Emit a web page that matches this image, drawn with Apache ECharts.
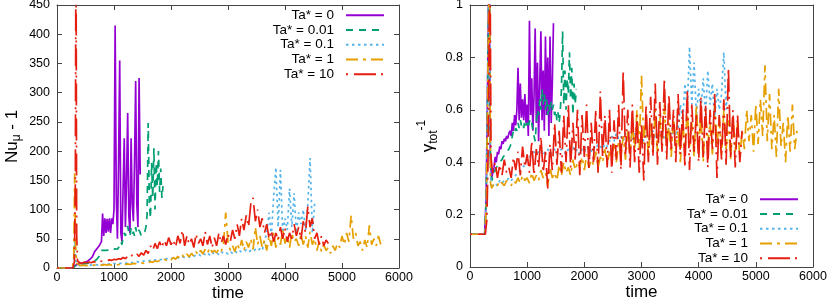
<!DOCTYPE html>
<html><head><meta charset="utf-8">
<script src="https://cdn.jsdelivr.net/npm/echarts@6/dist/echarts.min.js"></script>
<style>html,body{margin:0;padding:0;background:#fff}#c{width:830px;height:300px}</style>
</head><body><div id="c"></div>
<script>
const seriesNames = ['Ta* = 0', 'Ta* = 0.01', 'Ta* = 0.1', 'Ta* = 1', 'Ta* = 10'];

// ---------- Left panel: Nu_mu - 1 vs time ----------
const nuHead0 = [[0,0],[270,0],[300,3],[330,5],[360,6],[380,7]];
const nuStart0 = 400, nuStep0 = 20;
const nuBody0 = [7,8,8,9,10,10,11,12,14,15, 17,19,22,28,27,33,36,38,36,45,
  93,55,85,60,84,62,85,60,85,75, 100,415,120,50,180,355,60,45,140,222,
  70,150,265,90,60,222,110,80,180,320, 110,70,325,160];

const nuHead1 = [[0,0],[270,0],[300,3],[330,4],[360,5],[380,6]];
const nuStart1 = 400, nuStep1 = 20;
const nuBody1 = [6,6,7,7,7,8,8,8,9,9, 10,10,11,12,13,15,17,20,25,30,
  33,30,32,30,33,31,30,33,35,31, 30,33,36,32,34,38,45,40,52,60,
  55,65,72,60,55,68,58,62,55,70, 58,55,65,60,55,60,58,62,70,90,
  248,110,85,180,120,205,100,180,140,200, 130,170,120,140];

const nuHead2 = [[0,0],[270,0],[295,10],[310,50],[325,15],[350,6],[375,5]];
const nuStart2 = 400, nuStep2 = 40;
const nuBody2 = [4,4,5,4,5,5,5,6,5,6, 6,7,6,7,7,8,7,8,8,9, 8,9,10,9,10,11,10,11,12,11,
  12,13,12,14,13,14,15,14,16,15, 16,17,16,18,17,19,18,20,19,21, 20,22,24,21,25,23,26,22,27,24,
  26,23,28,25,27,24,28,25,29,26, 30,27,28,31,27,30,28,32,29,33, 30,45,60,95,55,120,172,70,168,60,
  85,65,136,70,128,60,95,75,100,65, 110,188,60,110];

const nuHead3 = [[0,0],[270,0],[295,20],[310,162],[325,40],[345,8],[370,5]];
const nuStart3 = 400, nuStep3 = 40;
const nuBody3 = [5,4,5,4,5,4,5,5,4,5, 5,6,5,6,5,6,5,6,6,7, 6,7,6,7,8,7,8,9,8,10,
  9,11,10,12,11,13,12,15,13,16, 14,18,15,20,16,22,17,24,19,25, 20,28,22,30,24,32,25,35,27,30,
  26,33,28,40,95,45,30,38,28,42, 32,48,30,45,35,50,32,70,40,55, 35,48,30,55,38,60,35,52,40,65,
  42,55,35,60,45,50,38,58,40,55, 35,62,40,50,30,45,28,40,30,35, 25,38,30,42,35,55,40,60,45,90,
  50,60,38,45,30,48,35,73,40,50, 38,55,40,48];

const nuHead4 = [[0,0],[280,0],[305,10],[322,150],[333,600],[345,60],[360,12],[380,9]];
const nuStart4 = 400, nuStep4 = 40;
const nuBody4 = [9,8,10,9,10,9,11,10,11,12, 11,13,12,14,13,15,14,16,15,18, 16,20,18,22,19,24,20,26,22,30,
  25,38,30,42,33,45,35,48,38,52, 40,48,35,55,42,65,38,55,40,50, 35,58,42,50,38,62,40,55,35,52,
  38,60,42,55,40,58,45,65,50,75, 55,85,65,90,70,110,120,80,100,70, 85,60,75,50,65,45,60,48,70,50,
  68,45,60,50,75,55,70,48,80,60, 105,70,85,50,60,40,55,38,48,42];

// ---------- Right panel: gamma_tot^-1 vs time ----------
const gaHead0 = [[0,0.125],[255,0.125],[280,0.25],[300,0.55],[320,0.95],[335,1.2],[355,0.42],[380,0.34]];
const gaStart0 = 400, gaStep0 = 20;
const gaBody0 = [0.36,0.38,0.42,0.40,0.44,0.43,0.46,0.45,0.48,0.47, 0.49,0.48,0.50,0.49,0.51,0.52,0.50,0.55,0.52,0.58,
  0.54,0.60,0.76,0.56,0.70,0.57,0.64,0.56,0.66,0.55, 0.62,0.50,0.94,0.58,0.72,0.52,0.65,0.91,0.55,0.78,
  0.48,0.70,0.90,0.56,0.75,0.52,0.88,0.58,0.80,0.50, 0.88,0.55,0.70,0.93];

const gaHead1 = [[0,0.125],[258,0.125],[282,0.25],[302,0.55],[322,0.95],[337,1.2],[357,0.40],[380,0.33]];
const gaStart1 = 400, gaStep1 = 20;
const gaBody1 = [0.34,0.36,0.37,0.38,0.38,0.39,0.40,0.40,0.41,0.42, 0.42,0.43,0.44,0.44,0.45,0.46,0.47,0.50,0.52,0.51,
  0.53,0.52,0.55,0.53,0.56,0.54,0.55,0.53,0.56,0.54, 0.55,0.53,0.56,0.54,0.55,0.52,0.50,0.48,0.55,0.60,
  0.58,0.64,0.60,0.68,0.62,0.66,0.60,0.64,0.58,0.62, 0.59,0.63,0.60,0.62,0.58,0.60,0.56,0.59,0.55,0.60,
  0.68,0.90,0.62,0.75,0.60,0.72,0.66,0.82,0.64,0.76, 0.58,0.70,0.62,0.68];

const gaHead2 = [[0,0.125],[260,0.125],[285,0.25],[305,0.6],[325,1.0],[338,1.2],[358,0.35],[380,0.30]];
const gaStart2 = 400, gaStep2 = 40;
const gaBody2 = [0.31,0.32,0.31,0.33,0.32,0.33,0.33,0.34,0.33,0.34, 0.35,0.36,0.37,0.38,0.39,0.41,0.42,0.43,0.44,0.43,
  0.44,0.45,0.43,0.44,0.45,0.43,0.44,0.45,0.43,0.44, 0.45,0.44,0.43,0.45,0.44,0.46,0.44,0.45,0.43,0.45,
  0.44,0.46,0.45,0.44,0.46,0.45,0.47,0.46,0.45,0.47, 0.46,0.48,0.50,0.48,0.51,0.49,0.50,0.48,0.51,0.49,
  0.50,0.48,0.51,0.49,0.52,0.50,0.48,0.51,0.49,0.50, 0.52,0.49,0.51,0.50,0.52,0.49,0.51,0.53,0.50,0.52,
  0.50,0.53,0.62,0.56,0.70,0.60,0.84,0.62,0.78,0.58, 0.68,0.60,0.72,0.58,0.75,0.62,0.70,0.57,0.68,0.60,
  0.66,0.82,0.60,0.72];

const gaHead3 = [[0,0.125],[262,0.125],[287,0.25],[307,0.6],[327,1.0],[340,1.2],[360,0.32],[380,0.30]];
const gaStart3 = 400, gaStep3 = 40;
const gaBody3 = [0.31,0.32,0.31,0.33,0.32,0.31,0.33,0.32,0.31,0.33, 0.32,0.34,0.32,0.35,0.33,0.34,0.32,0.36,0.33,0.35,
  0.33,0.37,0.34,0.36,0.31,0.38,0.34,0.36,0.33,0.39, 0.35,0.40,0.36,0.38,0.35,0.41,0.37,0.40,0.38,0.42,
  0.37,0.43,0.38,0.41,0.39,0.44,0.38,0.42,0.40,0.45, 0.39,0.44,0.41,0.47,0.40,0.48,0.42,0.50,0.41,0.52,
  0.43,0.55,0.44,0.60,0.45,0.73,0.47,0.58,0.42,0.55, 0.44,0.60,0.43,0.57,0.45,0.62,0.46,0.55,0.42,0.58,
  0.45,0.52,0.40,0.56,0.44,0.60,0.46,0.55,0.42,0.62, 0.45,0.58,0.40,0.60,0.47,0.55,0.43,0.62,0.46,0.57,
  0.42,0.60,0.45,0.56,0.41,0.58,0.44,0.55,0.42,0.52, 0.45,0.60,0.48,0.58,0.44,0.62,0.47,0.64,0.50,0.77,
  0.48,0.66,0.45,0.58,0.42,0.68,0.46,0.55,0.40,0.58, 0.44,0.62,0.45,0.52];

const gaHead4 = [[0,0.125],[268,0.125],[295,0.18],[315,0.4],[335,0.9],[350,1.2],[368,0.42],[385,0.38]];
const gaStart4 = 400, gaStep4 = 40;
const gaBody4 = [0.36,0.40,0.34,0.39,0.35,0.41,0.36,0.38,0.34,0.42, 0.37,0.44,0.35,0.46,0.38,0.43,0.36,0.48,0.35,0.45,
  0.38,0.50,0.36,0.44,0.30,0.47,0.37,0.55,0.39,0.52, 0.36,0.58,0.40,0.62,0.38,0.55,0.41,0.60,0.35,0.58,
  0.42,0.62,0.37,0.55,0.40,0.60,0.36,0.67,0.42,0.58, 0.38,0.60,0.36,0.56,0.41,0.62,0.37,0.75,0.43,0.60,
  0.38,0.62,0.40,0.58,0.36,0.55,0.33,0.62,0.40,0.65, 0.42,0.70,0.39,0.63,0.44,0.72,0.41,0.66,0.45,0.60,
  0.40,0.66,0.43,0.60,0.38,0.68,0.37,0.62,0.44,0.58, 0.40,0.65,0.42,0.62,0.38,0.60,0.45,0.66,0.34,0.58,
  0.41,0.64,0.39,0.76,0.42,0.60,0.38,0.58,0.40,0.52];

// ---------- build ----------
function build(head, start, step, body) {
  return head.concat(body.map((v, i) => [start + i * step, v]));
}
const nuData = [
  build(nuHead0, nuStart0, nuStep0, nuBody0),
  build(nuHead1, nuStart1, nuStep1, nuBody1),
  build(nuHead2, nuStart2, nuStep2, nuBody2),
  build(nuHead3, nuStart3, nuStep3, nuBody3),
  build(nuHead4, nuStart4, nuStep4, nuBody4)
];
const gaData = [
  build(gaHead0, gaStart0, gaStep0, gaBody0),
  build(gaHead1, gaStart1, gaStep1, gaBody1),
  build(gaHead2, gaStart2, gaStep2, gaBody2),
  build(gaHead3, gaStart3, gaStep3, gaBody3),
  build(gaHead4, gaStart4, gaStep4, gaBody4)
];

const FONT = '"Liberation Sans", Arial, sans-serif';
const COLORS = ['#9400d3', '#009e73', '#56b4e9', '#e69f00', '#e51e10'];
const DASHES = ['solid', [7, 6], [2.5, 3.5], [12, 5, 3, 5], [2, 6, 22, 5]];
const FRAME = '#444';

function xAx(grid, pos, showName) {
  return {
    type: 'value', gridIndex: grid, position: pos, min: 0, max: 6000, interval: 1000,
    name: showName ? 'time' : '', nameLocation: 'middle', nameGap: 17, nameMoveOverlap: false,
    nameTextStyle: { fontFamily: FONT, fontSize: 17, color: '#000' },
    axisLine: { show: true, onZero: false, lineStyle: { color: FRAME, width: 1 } },
    axisTick: { show: true, inside: true, length: 5, lineStyle: { color: FRAME } },
    axisLabel: { show: showName, fontFamily: FONT, fontSize: 12.5, color: '#000', margin: 3,
                 formatter: v => String(v) },
    splitLine: { show: false }
  };
}
function yAx(grid, pos, max, interval, showLabel, name, rich, gap) {
  return {
    type: 'value', gridIndex: grid, position: pos, min: 0, max: max, interval: interval,
    name: name || '', nameLocation: 'middle', nameGap: gap || 0, nameRotate: 90, nameMoveOverlap: false,
    nameTextStyle: { fontFamily: FONT, fontSize: 17, color: '#000', rich: rich || {} },
    axisLine: { show: true, onZero: false, lineStyle: { color: FRAME, width: 1 } },
    axisTick: { show: true, inside: true, length: 5, lineStyle: { color: FRAME } },
    axisLabel: { show: showLabel, fontFamily: FONT, fontSize: 12.5, color: '#000', margin: 7 },
    splitLine: { show: false }
  };
}

const nuRich = {
  b: { fontFamily: FONT, fontSize: 17, lineHeight: 22, verticalAlign: 'middle', color: '#000' },
  s: { fontFamily: FONT, fontSize: 12, lineHeight: 12, verticalAlign: 'bottom', color: '#000' }
};
const gaRich = {
  b: { fontFamily: FONT, fontSize: 17, lineHeight: 24, verticalAlign: 'middle', color: '#000' },
  s: { fontFamily: FONT, fontSize: 12, lineHeight: 12, verticalAlign: 'bottom', color: '#000' },
  p: { fontFamily: FONT, fontSize: 12, lineHeight: 12, verticalAlign: 'top', color: '#000' }
};

const series = [];
[nuData, gaData].forEach((set, g) => {
  set.forEach((d, k) => {
    series.push({
      name: seriesNames[k], type: 'line', xAxisIndex: g * 2, yAxisIndex: g * 2,
      data: d, showSymbol: false, symbol: 'none', clip: true,
      lineStyle: { color: COLORS[k], width: 1.7, type: DASHES[k] },
      itemStyle: { color: COLORS[k] }, z: 2 + k
    });
  });
});

function legendCfg(right, top) {
  return {
    data: seriesNames, orient: 'vertical', align: 'right', right: right, top: top,
    itemWidth: 38, itemHeight: 10, itemGap: 0, padding: 0, selectedMode: false,
    itemStyle: { opacity: 0, borderWidth: 0 },
    textStyle: { fontFamily: FONT, fontSize: 13.5, color: '#000', lineHeight: 14.7, padding: [0, 7, 0, 0] }
  };
}

const chart = echarts.init(document.getElementById('c'), null, { renderer: 'canvas' });
chart.setOption({
  animation: false,
  backgroundColor: '#fff',
  grid: [
    { left: 57, top: 5, width: 342, height: 263, outerBoundsMode: 'none', containLabel: false },
    { left: 470, top: 5, width: 343, height: 262, outerBoundsMode: 'none', containLabel: false }
  ],
  xAxis: [xAx(0, 'bottom', true), xAx(0, 'top', false), xAx(1, 'bottom', true), xAx(1, 'top', false)],
  yAxis: [
    yAx(0, 'left', 450, 50, true, '{b|Nu}{s|μ}{b| - 1}', nuRich, 34),
    yAx(0, 'right', 450, 50, false),
    yAx(1, 'left', 1, 0.2, true, '{b|γ}{s|tot}{p|-1}', gaRich, 30),
    yAx(1, 'right', 1, 0.2, false)
  ],
  legend: [legendCfg(445, 8), legendCfg(31, 192)],
  series: series
});
</script></body></html>
